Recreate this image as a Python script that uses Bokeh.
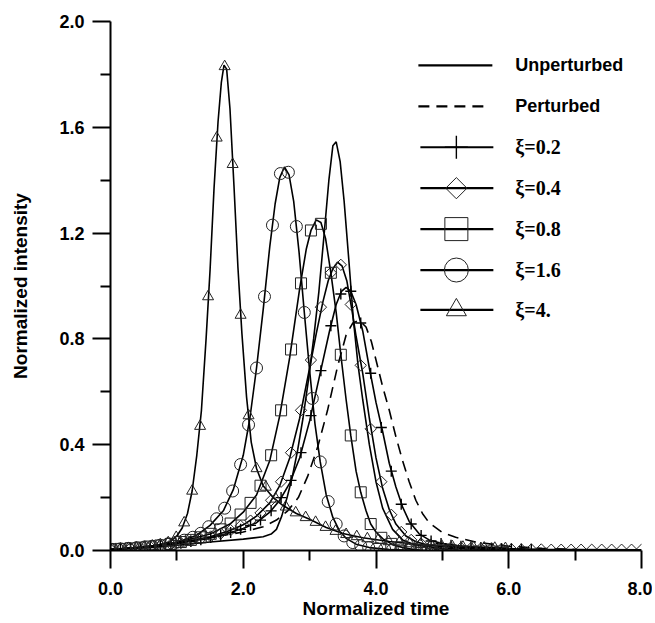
import numpy as np
from bokeh.plotting import figure
from bokeh.models import Range1d, FixedTicker, PrintfTickFormatter
from bokeh.core.properties import value
from bokeh.embed import file_html
from bokeh.resources import INLINE

# ---------------- data ----------------
x_ticks = [0.0, 2.0, 4.0, 6.0, 8.0]
x_tick_labels = ["0.0", "2.0", "4.0", "6.0", "8.0"]
x_minor = [1.0, 3.0, 5.0, 7.0]
y_ticks = [0.0, 0.4, 0.8, 1.2, 1.6, 2.0]
y_tick_labels = ["0.0", "0.4", "0.8", "1.2", "1.6", "2.0"]
y_minor = [0.2, 0.6, 1.0, 1.4, 1.8]

legend_labels = ["Unperturbed", "Perturbed", "\u03be=0.2", "\u03be=0.4", "\u03be=0.8", "\u03be=1.6", "\u03be=4."]

# Unperturbed (solid)
unpert_t = [0, 0.5, 1.0, 1.5, 2.0, 2.3, 2.42, 2.5, 2.58, 2.66,
            2.74, 2.82, 2.9, 2.98, 3.06, 3.14, 3.22, 3.29, 3.35, 3.4,
            3.46, 3.52, 3.59, 3.66, 3.73, 3.8, 3.9, 4.0, 4.1, 4.25,
            4.4, 4.6, 5.0, 6.0]
unpert_y = [0.003, 0.01, 0.02, 0.032, 0.043, 0.052, 0.062, 0.08, 0.13, 0.2,
            0.28, 0.38, 0.5, 0.64, 0.8, 0.98, 1.2, 1.4, 1.53, 1.545,
            1.47, 1.32, 1.1, 0.87, 0.7, 0.57, 0.4, 0.26, 0.16, 0.08,
            0.04, 0.02, 0.008, 0.003]

# Perturbed (dashed)
pert_t = [0, 0.5, 1.0, 1.5, 2.0, 2.3, 2.5, 2.67, 2.83, 2.97,
          3.12, 3.27, 3.42, 3.55, 3.65, 3.75, 3.85, 3.93, 4.0, 4.1,
          4.2, 4.3, 4.4, 4.5, 4.6, 4.7, 4.8, 5.0, 5.2, 5.5,
          6.0, 6.5, 7.0]
pert_y = [0.003, 0.012, 0.028, 0.048, 0.07, 0.09, 0.115, 0.15, 0.2, 0.28,
          0.39, 0.53, 0.695, 0.815, 0.86, 0.87, 0.845, 0.79, 0.72, 0.62,
          0.53, 0.43, 0.34, 0.26, 0.19, 0.14, 0.105, 0.068, 0.05, 0.032,
          0.016, 0.008, 0.004]

# xi = 0.2 (plus)
xi02_t = [0, 0.5, 1.0, 1.5, 1.8, 2.0, 2.2, 2.4, 2.55, 2.7,
          2.85, 3.0, 3.15, 3.3, 3.4, 3.48, 3.55, 3.62, 3.7, 3.8,
          3.9, 4.0, 4.1, 4.2, 4.3, 4.4, 4.5, 4.65, 4.8, 5.0,
          5.3, 5.7, 6.3]
xi02_y = [0.004, 0.012, 0.026, 0.048, 0.067, 0.083, 0.105, 0.145, 0.19, 0.255,
          0.35, 0.49, 0.66, 0.83, 0.93, 0.98, 0.995, 0.98, 0.93, 0.83,
          0.69, 0.56, 0.45, 0.33, 0.24, 0.165, 0.11, 0.063, 0.04, 0.026,
          0.016, 0.01, 0.005]

# xi = 0.4 (diamond)
xi04_t = [0, 0.5, 1.0, 1.5, 1.8, 2.0, 2.2, 2.4, 2.55, 2.7,
          2.85, 3.0, 3.1, 3.2, 3.28, 3.35, 3.42, 3.49, 3.56, 3.63,
          3.7, 3.8, 3.9, 4.0, 4.1, 4.2, 4.3, 4.45, 4.6, 4.8,
          5.0, 5.5, 6.0, 7.0, 8.0]
xi04_y = [0.004, 0.012, 0.027, 0.052, 0.076, 0.097, 0.13, 0.18, 0.245, 0.35,
          0.5, 0.69, 0.82, 0.94, 1.02, 1.065, 1.09, 1.075, 1.02, 0.92,
          0.81, 0.67, 0.5, 0.35, 0.235, 0.155, 0.1, 0.055, 0.033, 0.02,
          0.014, 0.008, 0.005, 0.004, 0.003]

# xi = 0.8 (square)
xi08_t = [0, 0.5, 1.0, 1.5, 1.8, 2.0, 2.2, 2.4, 2.55, 2.7,
          2.85, 2.95, 3.02, 3.1, 3.17, 3.24, 3.32, 3.4, 3.47, 3.55,
          3.62, 3.7, 3.77, 3.85, 3.92, 4.0, 4.1, 4.25, 4.45, 4.7,
          5.0, 5.5, 5.9]
xi08_y = [0.004, 0.013, 0.029, 0.062, 0.1, 0.145, 0.21, 0.34, 0.51, 0.73,
          0.99, 1.14, 1.21, 1.25, 1.24, 1.18, 1.05, 0.9, 0.74, 0.57,
          0.435, 0.3, 0.22, 0.15, 0.1, 0.07, 0.045, 0.022, 0.008, 0.0,
          -0.003, -0.004, -0.004]

# xi = 1.6 (circle)
xi16_t = [0, 0.5, 1.0, 1.3, 1.5, 1.7, 1.85, 2.0, 2.1, 2.2,
          2.3, 2.4, 2.48, 2.55, 2.62, 2.69, 2.76, 2.84, 2.92, 3.0,
          3.08, 3.16, 3.25, 3.35, 3.45, 3.55, 3.7, 3.9, 4.2, 4.6,
          5.1]
xi16_y = [0.004, 0.013, 0.031, 0.058, 0.095, 0.15, 0.23, 0.36, 0.5, 0.69,
          0.91, 1.15, 1.31, 1.41, 1.45, 1.42, 1.32, 1.13, 0.9, 0.68,
          0.48, 0.335, 0.21, 0.125, 0.074, 0.046, 0.024, 0.011, 0.004, 0.0,
          0.0]

# xi = 4 (triangle)
xi4_t = [0, 0.4, 0.7, 0.9, 1.0, 1.08, 1.16, 1.23, 1.3, 1.37,
         1.44, 1.5, 1.56, 1.62, 1.67, 1.71, 1.75, 1.8, 1.86, 1.92,
         1.98, 2.05, 2.12, 2.2, 2.3, 2.45, 2.6, 2.8, 3.0, 3.25,
         3.5, 3.8, 4.2, 4.7, 5.3, 6.0]
xi4_y = [0.004, 0.01, 0.02, 0.033, 0.055, 0.085, 0.14, 0.225, 0.36, 0.53,
         0.8, 1.06, 1.37, 1.62, 1.77, 1.835, 1.82, 1.67, 1.38, 1.07,
         0.82, 0.58, 0.41, 0.31, 0.245, 0.2, 0.17, 0.14, 0.118, 0.087,
         0.064, 0.048, 0.034, 0.022, 0.013, 0.008]

# marker sample times
grid_a = [0.00, 0.15, 0.30, 0.45, 0.60, 0.75, 0.91, 1.06, 1.21, 1.36,
          1.51, 1.66, 1.81, 1.96, 2.11, 2.26, 2.42, 2.57, 2.72, 2.87,
          3.02, 3.17, 3.32, 3.47, 3.62, 3.77, 3.92, 4.08, 4.23, 4.38,
          4.53, 4.68, 4.83, 4.98, 5.13, 5.28, 5.43, 5.58, 5.74, 5.89,
          6.04, 6.19, 6.34, 6.49, 6.64, 6.79, 6.94, 7.09, 7.25, 7.40,
          7.55, 7.70, 7.85, 8.00]
grid_c = [0.03, 0.15, 0.27, 0.39, 0.51, 0.63, 0.75, 0.87, 0.99, 1.11,
          1.24, 1.36, 1.48, 1.60, 1.72, 1.84, 1.96, 2.08, 2.20, 2.32,
          2.44, 2.56, 2.68, 2.80, 2.92, 3.04, 3.16, 3.28, 3.40, 3.52,
          3.65, 3.77, 3.89, 4.01, 4.13, 4.25, 4.37, 4.49, 4.61, 4.73,
          4.85, 4.97, 5.09]
grid_tri = [0.03, 0.15, 0.27, 0.39, 0.51, 0.63, 0.75, 0.87, 0.99, 1.11,
            1.23, 1.35, 1.47, 1.60, 1.72, 1.84, 1.96, 2.08, 2.20, 2.34,
            2.49, 2.64, 2.79, 2.94, 3.09, 3.24, 3.39, 3.55, 3.71, 3.87,
            4.03, 4.19, 4.35, 4.51, 4.67, 4.83, 4.99, 5.15, 5.31, 5.47,
            5.63, 5.79, 5.95]

xi02_mk = [0.004, 0.006, 0.008, 0.011, 0.014, 0.018, 0.023, 0.028, 0.034, 0.041,
           0.049, 0.058, 0.068, 0.08, 0.095, 0.115, 0.15, 0.2, 0.265, 0.37,
           0.51, 0.68, 0.85, 0.97, 0.98, 0.86, 0.67, 0.465, 0.3, 0.175,
           0.1, 0.057, 0.036, 0.026, 0.02, 0.016, 0.013, 0.011, 0.009, 0.008,
           0.007, 0.006, 0.005]
xi04_mk = [0.004, 0.006, 0.008, 0.011, 0.014, 0.018, 0.023, 0.029, 0.036, 0.044,
           0.053, 0.064, 0.077, 0.093, 0.113, 0.142, 0.19, 0.26, 0.37, 0.53,
           0.72, 0.92, 1.05, 1.08, 0.93, 0.70, 0.46, 0.26, 0.135, 0.07,
           0.04, 0.026, 0.019, 0.015, 0.012, 0.010, 0.009, 0.008, 0.007, 0.006,
           0.005, 0.004, 0.004, 0.004, 0.003, 0.003, 0.003, 0.003, 0.003, 0.003,
           0.003, 0.003, 0.003, 0.003]
xi08_mk = [0.004, 0.006, 0.008, 0.011, 0.015, 0.019, 0.025, 0.032, 0.040, 0.05,
           0.063, 0.08, 0.102, 0.136, 0.18, 0.245, 0.36, 0.53, 0.76, 1.01,
           1.21, 1.235, 1.05, 0.74, 0.435, 0.22, 0.1, 0.048, 0.025, 0.012,
           0.005, 0.002, 0.0, -0.002, -0.003, -0.004, -0.004, -0.004, -0.004, -0.004]
xi16_mk = [0.004, 0.006, 0.008, 0.01, 0.013, 0.016, 0.02, 0.025, 0.031, 0.039,
           0.05, 0.065, 0.09, 0.12, 0.16, 0.225, 0.325, 0.475, 0.69, 0.96,
           1.23, 1.425, 1.43, 1.225, 0.9, 0.575, 0.335, 0.185, 0.1, 0.055,
           0.03, 0.018, 0.011, 0.007, 0.005, 0.003, 0.002, 0.001, 0.0, 0.0,
           0.0, 0.0, 0.0]
xi4_mk = [0.004, 0.006, 0.008, 0.01, 0.013, 0.017, 0.022, 0.03, 0.05, 0.105,
          0.225, 0.47, 0.96, 1.56, 1.83, 1.46, 0.89, 0.51, 0.31, 0.24,
          0.195, 0.165, 0.143, 0.125, 0.107, 0.088, 0.073, 0.061, 0.053, 0.045,
          0.039, 0.034, 0.03, 0.026, 0.023, 0.02, 0.017, 0.015, 0.013, 0.011,
          0.01, 0.009, 0.008]

# ---------------- figure ----------------
p = figure(width=652, height=621, x_range=Range1d(0, 8), y_range=Range1d(0, 2),
           output_backend="svg", toolbar_location=None,
           min_border_left=110, min_border_right=11, min_border_top=21, min_border_bottom=70)
p.grid.visible = False
p.outline_line_color = None
p.background_fill_color = "white"
p.border_fill_color = "white"

p.xaxis.ticker = FixedTicker(ticks=x_ticks, minor_ticks=x_minor)
p.yaxis.ticker = FixedTicker(ticks=y_ticks, minor_ticks=y_minor)
p.xaxis.formatter = PrintfTickFormatter(format="%.1f")
p.yaxis.formatter = PrintfTickFormatter(format="%.1f")
p.xaxis.major_label_overrides = dict(zip(x_ticks, x_tick_labels))
p.yaxis.major_label_overrides = dict(zip(y_ticks, y_tick_labels))
p.xaxis.axis_label = "Normalized time"
p.yaxis.axis_label = "Normalized intensity"

for ax in (p.xaxis[0], p.yaxis[0]):
    ax.axis_line_width = 2
    ax.axis_line_color = "black"
    ax.major_tick_line_width = 2
    ax.minor_tick_line_width = 2
    ax.major_tick_line_color = "black"
    ax.minor_tick_line_color = "black"
    ax.major_tick_in = 0
    ax.major_tick_out = 18
    ax.minor_tick_in = 0
    ax.minor_tick_out = 10
    ax.major_label_text_font = "Liberation Sans"
    ax.major_label_text_font_size = "18px"
    ax.major_label_text_font_style = "bold"
    ax.major_label_text_color = "black"
    ax.axis_label_text_font = "Liberation Sans"
    ax.axis_label_text_font_size = "19px"
    ax.axis_label_text_font_style = "bold"
    ax.axis_label_text_color = "black"
p.xaxis.major_label_standoff = 13
p.yaxis.major_label_standoff = 8
p.xaxis.axis_label_standoff = 0
p.yaxis.axis_label_standoff = 25

LW = 1.6
MK = "#222222"

# lines
p.line(unpert_t, unpert_y, line_color="black", line_width=LW)
p.line(pert_t, pert_y, line_color="black", line_width=LW, line_dash="11 7")
p.line(xi02_t, xi02_y, line_color="black", line_width=LW)
p.line(xi04_t, xi04_y, line_color="black", line_width=LW)
p.line(xi08_t, xi08_y, line_color="black", line_width=LW)
p.line(xi16_t, xi16_y, line_color="black", line_width=LW)
p.line(xi4_t, xi4_y, line_color="black", line_width=LW)

# markers
p.scatter(grid_a[:len(xi02_mk)], xi02_mk, marker="cross", size=11, line_color="black", line_width=1.4)
p.scatter(grid_a[:len(xi04_mk)], xi04_mk, marker="square", angle=np.pi / 4, size=8,
          fill_color=None, line_color=MK, line_width=1)
p.scatter(grid_a[:len(xi08_mk)], xi08_mk, marker="square", size=11,
          fill_color=None, line_color=MK, line_width=1)
p.scatter(grid_c[:len(xi16_mk)], xi16_mk, marker="circle", size=12,
          fill_color=None, line_color=MK, line_width=1)
p.scatter(grid_tri[:len(xi4_mk)], xi4_mk, marker="triangle", size=11,
          fill_color=None, line_color=MK, line_width=1)

# ---------------- legend (drawn by hand) ----------------
def sx(px):
    return (px - 110) / 66.4

def sy(py):
    return (551 - py) / 265

rows = [65, 106, 147, 188, 229, 270, 310]
L0, L1, LM, LT = 418, 492, 456, 515

p.line([sx(L0), sx(L1)], [sy(rows[0])] * 2, line_color="black", line_width=2.2)
p.line([sx(L0), sx(483)], [sy(rows[1])] * 2, line_color="black", line_width=2.2, line_dash="11 7")
for r in rows[2:]:
    p.line([sx(L0 + 2), sx(L1 + 1)], [sy(r)] * 2, line_color="black", line_width=2.2)

p.scatter([sx(LM)], [sy(rows[2])], marker="cross", size=23, line_color="black", line_width=1.4)
p.scatter([sx(LM)], [sy(rows[3])], marker="square", angle=np.pi / 4, size=15,
          fill_color=None, line_color=MK, line_width=1)
p.scatter([sx(LM)], [sy(rows[4])], marker="square", size=23,
          fill_color=None, line_color=MK, line_width=1)
p.scatter([sx(LM)], [sy(rows[5])], marker="circle", size=24,
          fill_color=None, line_color=MK, line_width=1)
p.scatter([sx(LM)], [sy(rows[6])], marker="triangle", size=20,
          fill_color=None, line_color=MK, line_width=1)

p.text(x=[sx(LT)] * 2, y=[sy(rows[0]), sy(rows[1])], text=legend_labels[:2],
       text_font=value("Liberation Sans"), text_font_style="bold", text_font_size="18px",
       text_baseline="middle", text_align="left", text_color="black")
p.text(x=[sx(LT)] * 5, y=[sy(r) for r in rows[2:]], text=legend_labels[2:],
       text_font=value("Liberation Serif"), text_font_style="bold", text_font_size="20px",
       text_baseline="middle", text_align="left", text_color="black")

open("out.html", "w").write(file_html(p, INLINE, "plot"))
